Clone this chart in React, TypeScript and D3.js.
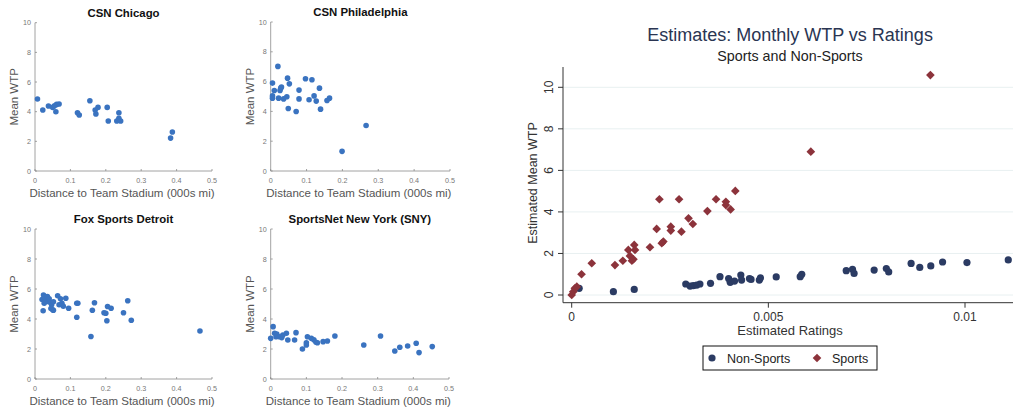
import React, { useEffect, useRef } from 'react';
import * as d3 from 'd3';

// ---- small panels: distance to stadium (000s mi) vs mean WTP ----
const chicagoDist = [0.007, 0.022, 0.038, 0.05, 0.055, 0.059, 0.061, 0.068, 0.12, 0.125, 0.155, 0.17, 0.172, 0.178, 0.204, 0.207, 0.231, 0.237, 0.237, 0.242, 0.383, 0.388];
const chicagoWtp = [4.85, 4.11, 4.38, 4.29, 4.4, 4.0, 4.49, 4.52, 3.93, 3.78, 4.74, 4.11, 3.84, 4.29, 4.29, 3.37, 3.37, 3.93, 3.55, 3.37, 2.22, 2.63];

const phillyDist = [0.005, 0.005, 0.005, 0.01, 0.02, 0.022, 0.026, 0.028, 0.03, 0.036, 0.045, 0.047, 0.049, 0.052, 0.071, 0.079, 0.079, 0.097, 0.107, 0.115, 0.121, 0.127, 0.136, 0.139, 0.157, 0.164, 0.199, 0.266];
const phillyWtp = [5.9, 5.04, 4.89, 5.4, 7.02, 4.89, 5.4, 5.56, 5.63, 4.84, 4.98, 6.23, 4.19, 5.85, 3.99, 5.43, 4.84, 6.19, 4.78, 6.12, 5.04, 4.69, 5.56, 4.15, 4.73, 4.89, 1.32, 3.05];

const detroitDist = [0.02, 0.024, 0.026, 0.028, 0.032, 0.035, 0.038, 0.04, 0.044, 0.047, 0.05, 0.052, 0.023, 0.045, 0.052, 0.064, 0.068, 0.072, 0.076, 0.08, 0.087, 0.095, 0.118, 0.121, 0.118, 0.158, 0.162, 0.168, 0.195, 0.2, 0.205, 0.203, 0.215, 0.25, 0.262, 0.272, 0.466];
const detroitWtp = [5.3, 5.6, 5.05, 5.45, 5.2, 5.5, 5.15, 5.35, 5.1, 4.95, 4.62, 5.15, 4.55, 4.7, 4.58, 5.55, 4.95, 5.35, 5.05, 4.85, 5.38, 4.72, 5.05, 5.05, 4.12, 2.83, 4.58, 5.08, 4.42, 4.38, 4.83, 3.88, 4.72, 4.42, 5.22, 3.92, 3.2];

const snyDist = [0.0, 0.0068, 0.011, 0.015, 0.017, 0.025, 0.031, 0.034, 0.044, 0.048, 0.067, 0.071, 0.089, 0.1, 0.103, 0.1, 0.114, 0.121, 0.127, 0.131, 0.147, 0.159, 0.18, 0.261, 0.308, 0.348, 0.362, 0.384, 0.408, 0.416, 0.453];
const snyWtp = [2.71, 3.49, 3.05, 2.82, 3.0, 2.82, 2.76, 2.93, 3.05, 2.6, 2.6, 3.09, 2.0, 2.27, 2.82, 2.42, 2.71, 2.61, 2.45, 2.42, 2.49, 2.53, 2.87, 2.27, 2.87, 1.87, 2.12, 2.2, 2.38, 1.76, 2.16];

const panelTitles = ['CSN Chicago', 'CSN Philadelphia', 'Fox Sports Detroit', 'SportsNet New York (SNY)'];
const panelDist = [chicagoDist, phillyDist, detroitDist, snyDist];
const panelWtp = [chicagoWtp, phillyWtp, detroitWtp, snyWtp];
const smallXTicks = [0, 0.1, 0.2, 0.3, 0.4, 0.5];
const smallYTicks = [0, 2, 4, 6, 8, 10];

// ---- right chart: estimated ratings vs estimated mean WTP ----
const nonSportsRating = [0.00019, 0.00106, 0.00159, 0.0029, 0.00301, 0.00309, 0.00318, 0.00326, 0.00353, 0.00377, 0.00399, 0.00403, 0.00414, 0.0043, 0.00432, 0.00452, 0.00456, 0.00477, 0.0048, 0.0052, 0.00581, 0.00585, 0.00698, 0.00714, 0.00718, 0.00769, 0.008, 0.00806, 0.00863, 0.00885, 0.00913, 0.00943, 0.01005, 0.0111];
const nonSportsWtp = [0.32, 0.16, 0.27, 0.53, 0.43, 0.45, 0.48, 0.53, 0.56, 0.88, 0.79, 0.61, 0.67, 0.96, 0.72, 0.79, 0.75, 0.72, 0.82, 0.87, 0.88, 1.0, 1.17, 1.24, 1.04, 1.2, 1.27, 1.11, 1.52, 1.33, 1.4, 1.59, 1.56, 1.69];

const sportsRating = [0.0, 0.00004, 0.00008, 0.00013, 0.00025, 0.00051, 0.0011, 0.0013, 0.00144, 0.00148, 0.00153, 0.00157, 0.00159, 0.00161, 0.00199, 0.00216, 0.00223, 0.00229, 0.00233, 0.00252, 0.00252, 0.00273, 0.00279, 0.00297, 0.00308, 0.00345, 0.00367, 0.00392, 0.00392, 0.00404, 0.00416, 0.00608, 0.00912];
const sportsWtp = [0.0, 0.16, 0.32, 0.4, 1.0, 1.53, 1.44, 1.65, 2.17, 1.88, 1.65, 1.72, 2.41, 2.17, 2.3, 3.18, 4.61, 2.49, 2.57, 3.29, 3.1, 4.61, 3.05, 3.69, 3.42, 4.04, 4.61, 4.49, 4.33, 4.12, 5.01, 6.9, 10.59];

const bigXTicks = [0, 0.005, 0.01];
const bigYTicks = [0, 2, 4, 6, 8, 10];

const W = 1017;
const H = 411;
const SANS = '"Liberation Sans", Arial, Helvetica, sans-serif';
const DOT = '#3a73c0';
const NAVY = '#2b3b63';
const MAROON = '#8c333b';

const panelBoxes = [
  { left: 35, right: 212, top: 22.7, bottom: 171 },
  { left: 270.7, right: 450, top: 22, bottom: 171 },
  { left: 35, right: 212, top: 229, bottom: 379 },
  { left: 270.7, right: 449, top: 229, bottom: 379 },
];

export default function App() {
  const ref = useRef<SVGSVGElement | null>(null);

  useEffect(() => {
    const svg = d3.select(ref.current);
    svg.selectAll('*').remove();
    svg.attr('font-family', SANS);

    // small multiples
    panelBoxes.forEach((b, i) => {
      const g = svg.append('g').attr('class', 'panel');
      const x = d3.scaleLinear().domain([0, 0.5]).range([b.left, b.right]);
      const y = d3.scaleLinear().domain([0, 10]).range([b.bottom, b.top]);

      // axes lines
      g.append('line').attr('x1', b.left).attr('x2', b.right).attr('y1', b.bottom).attr('y2', b.bottom).attr('stroke', '#8a8a8a').attr('stroke-width', 0.8);
      g.append('line').attr('x1', b.left).attr('x2', b.left).attr('y1', b.bottom).attr('y2', b.top).attr('stroke', '#8a8a8a').attr('stroke-width', 0.8);

      // inward ticks
      g.selectAll('.xt').data(smallXTicks).join('line')
        .attr('x1', (d) => x(d)).attr('x2', (d) => x(d))
        .attr('y1', b.bottom).attr('y2', b.bottom - 2)
        .attr('stroke', '#8a8a8a').attr('stroke-width', 0.8);
      g.selectAll('.yt').data(smallYTicks).join('line')
        .attr('x1', b.left).attr('x2', b.left + 2)
        .attr('y1', (d) => y(d)).attr('y2', (d) => y(d))
        .attr('stroke', '#8a8a8a').attr('stroke-width', 0.8);

      g.selectAll('.xl').data(smallXTicks).join('text')
        .attr('x', (d) => x(d)).attr('y', b.bottom + 12)
        .attr('text-anchor', 'middle').attr('font-size', 7.2).attr('fill', '#777')
        .text((d) => (d === 0 ? '0' : d3.format('.1f')(d)));
      g.selectAll('.yl').data(smallYTicks).join('text')
        .attr('x', b.left - 4).attr('y', (d) => y(d) + 2.6)
        .attr('text-anchor', 'end').attr('font-size', 7.2).attr('fill', '#777')
        .text((d) => d);

      g.append('text').attr('x', (b.left + b.right) / 2 - 1.5).attr('y', b.bottom + 25.5)
        .attr('text-anchor', 'middle').attr('font-size', 11.5).attr('fill', '#555')
        .text('Distance to Team Stadium (000s mi)');
      g.append('text')
        .attr('transform', `translate(${b.left - 17}, ${(b.top + b.bottom) / 2}) rotate(-90)`)
        .attr('text-anchor', 'middle').attr('font-size', 11.5).attr('fill', '#555')
        .text('Mean WTP');
      g.append('text').attr('x', (b.left + b.right) / 2).attr('y', b.top - 6)
        .attr('text-anchor', 'middle').attr('font-size', 11.4).attr('font-weight', 'bold').attr('fill', '#111')
        .text(panelTitles[i]);

      const pts = panelDist[i].map((d, k) => ({ d, w: panelWtp[i][k] }));
      g.selectAll('.pt').data(pts).join('circle')
        .attr('cx', (p) => x(p.d)).attr('cy', (p) => y(p.w))
        .attr('r', 2.8).attr('fill', DOT);
    });

    // big chart
    const bx = d3.scaleLinear().domain([0, 0.01]).range([571.7, 965]);
    const by = d3.scaleLinear().domain([0, 10]).range([295, 87.3]);
    const axisLeft = 563;
    const axisBottom = 302.7;
    const axisRight = 1013;
    const axisTop = 67;
    const big = svg.append('g').attr('class', 'big');

    big.selectAll('.grid').data(bigYTicks).join('line')
      .attr('x1', axisLeft).attr('x2', axisRight)
      .attr('y1', (d) => by(d)).attr('y2', (d) => by(d))
      .attr('stroke', '#e8f0f1').attr('stroke-width', 1);

    big.append('line').attr('x1', axisLeft).attr('x2', axisLeft).attr('y1', axisTop).attr('y2', axisBottom).attr('stroke', '#333').attr('stroke-width', 1);
    big.append('line').attr('x1', axisLeft).attr('x2', axisRight).attr('y1', axisBottom).attr('y2', axisBottom).attr('stroke', '#333').attr('stroke-width', 1);

    big.selectAll('.byt').data(bigYTicks).join('line')
      .attr('x1', axisLeft - 5).attr('x2', axisLeft)
      .attr('y1', (d) => by(d)).attr('y2', (d) => by(d))
      .attr('stroke', '#333');
    big.selectAll('.bxt').data(bigXTicks).join('line')
      .attr('x1', (d) => bx(d)).attr('x2', (d) => bx(d))
      .attr('y1', axisBottom).attr('y2', axisBottom + 5)
      .attr('stroke', '#333');

    big.selectAll('.byl').data(bigYTicks).join('text')
      .attr('transform', (d) => `translate(${axisLeft - 10}, ${by(d)}) rotate(-90)`)
      .attr('text-anchor', 'middle').attr('font-size', 12).attr('fill', '#333')
      .text((d) => d);
    big.selectAll('.bxl').data(bigXTicks).join('text')
      .attr('x', (d) => bx(d)).attr('y', axisBottom + 18)
      .attr('text-anchor', 'middle').attr('font-size', 12).attr('fill', '#333')
      .text((d) => (d === 0 ? '0' : String(d)));

    big.append('text').attr('x', 790).attr('y', 335)
      .attr('text-anchor', 'middle').attr('font-size', 13).attr('fill', '#333')
      .text('Estimated Ratings');
    big.append('text')
      .attr('transform', `translate(537, 183) rotate(-90)`)
      .attr('text-anchor', 'middle').attr('font-size', 12.5).attr('fill', '#333')
      .text('Estimated Mean WTP');

    big.append('text').attr('x', 790).attr('y', 41)
      .attr('text-anchor', 'middle').attr('font-size', 18).attr('fill', '#2a3552')
      .text('Estimates: Monthly WTP vs Ratings');
    big.append('text').attr('x', 790).attr('y', 60.5)
      .attr('text-anchor', 'middle').attr('font-size', 14.3).attr('fill', '#222')
      .text('Sports and Non-Sports');

    const ns = nonSportsRating.map((r, k) => ({ r, w: nonSportsWtp[k] }));
    big.selectAll('.ns').data(ns).join('circle')
      .attr('cx', (p) => bx(p.r)).attr('cy', (p) => by(p.w))
      .attr('r', 3.6).attr('fill', NAVY);

    const diamond = d3.symbol().type(d3.symbolDiamond2).size(48);
    const sp = sportsRating.map((r, k) => ({ r, w: sportsWtp[k] }));
    big.selectAll('.sp').data(sp).join('path')
      .attr('d', diamond)
      .attr('transform', (p) => `translate(${bx(p.r)}, ${by(p.w)})`)
      .attr('fill', MAROON);

    // legend
    const lg = big.append('g').attr('class', 'legend');
    lg.append('rect').attr('x', 703).attr('y', 346).attr('width', 174).attr('height', 24)
      .attr('fill', 'white').attr('stroke', '#111').attr('stroke-width', 1);
    lg.append('circle').attr('cx', 712).attr('cy', 358).attr('r', 3.6).attr('fill', NAVY);
    lg.append('text').attr('x', 727).attr('y', 362.5).attr('font-size', 12.5).attr('fill', '#222').text('Non-Sports');
    lg.append('path').attr('d', diamond).attr('transform', 'translate(817, 358)').attr('fill', MAROON);
    lg.append('text').attr('x', 832).attr('y', 362.5).attr('font-size', 12.5).attr('fill', '#222').text('Sports');
  }, []);

  return (
    <svg
      ref={ref}
      width={W}
      height={H}
      style={{ position: 'absolute', left: 0, top: 0, display: 'block', background: 'white' }}
    />
  );
}
